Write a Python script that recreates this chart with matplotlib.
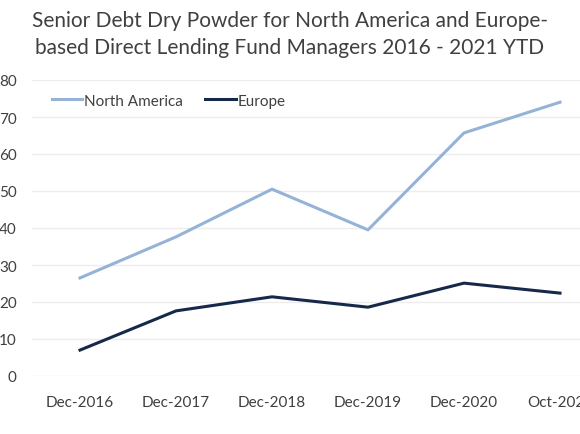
import matplotlib
matplotlib.use('Agg')
import matplotlib.pyplot as plt

categories = ['Dec-2016', 'Dec-2017', 'Dec-2018', 'Dec-2019', 'Dec-2020', 'Oct-2021']
north_america = [26.5, 37.6, 50.5, 39.5, 65.7, 74.0]
europe = [7.0, 17.6, 21.4, 18.6, 25.1, 22.4]
y_ticks = [0, 10, 20, 30, 40, 50, 60, 70, 80]

plt.rcParams['font.family'] = ['Lato', 'DejaVu Sans']
text_color = '#404040'

fig = plt.figure(figsize=(5.8, 4.35), dpi=100)
# axes run past the right edge, as in the cropped original
ax = fig.add_axes([32 / 580, 58 / 435, 576 / 580, 296 / 435])

x = range(len(categories))
ax.plot(x, north_america, color='#95B3D7', lw=2.2, label='North America')
ax.plot(x, europe, color='#17294A', lw=2.2, label='Europe')

ax.set_xlim(-0.5, len(categories) - 0.5)
ax.set_ylim(0, 80)
ax.set_yticks(y_ticks)
ax.set_xticks(list(x))
ax.set_xticklabels(categories)
ax.tick_params(axis='both', length=0, labelsize=11, colors=text_color)
ax.tick_params(axis='y', pad=11)
ax.tick_params(axis='x', pad=14)
ax.grid(axis='y', color='#EDEDED', lw=1)
ax.set_axisbelow(True)
for s in ax.spines.values():
    s.set_visible(False)

leg = ax.legend(loc='upper left', bbox_to_anchor=(0.01, 1.0), ncol=2, frameon=False,
                fontsize=11, handlelength=2.0, handletextpad=0.1, columnspacing=1.5)
for t in leg.get_texts():
    t.set_color(text_color)

fig.text(0.5, 0.975, 'Senior Debt Dry Powder for North America and Europe-\nbased Direct Lending Fund Managers 2016 - 2021 YTD',
         ha='center', va='top', fontsize=15, color=text_color, linespacing=1.45)

plt.savefig('out.png', dpi=100)
plt.close()
